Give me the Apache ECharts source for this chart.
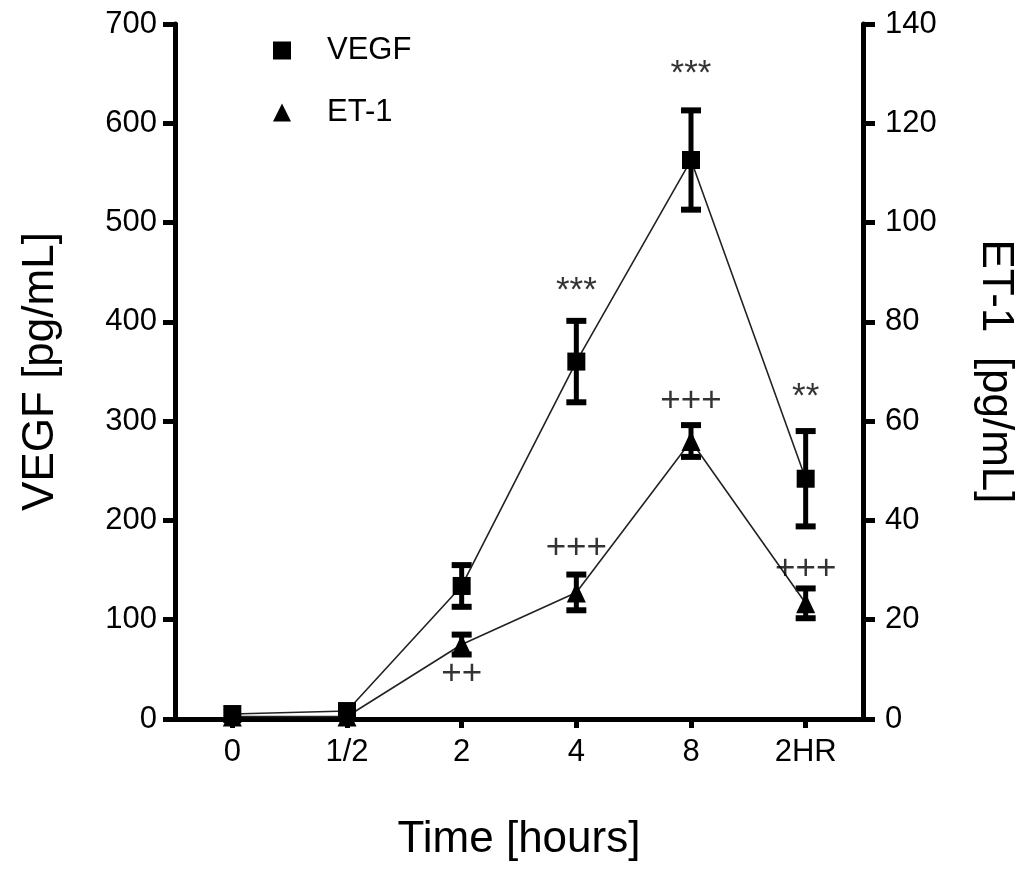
<!DOCTYPE html>
<html><head><meta charset="utf-8">
<script src="https://cdn.jsdelivr.net/npm/echarts@6/dist/echarts.min.js"></script>
<style>html,body{margin:0;padding:0;background:#fff}#c{width:1025px;height:869px}</style>
</head><body><div id="c"></div>
<script>
// ---- data ----
const categories = ['0', '1/2', '2', '4', '8', '2HR'];
const vegfMean = [5, 8, 134, 360, 563, 242];
const vegfErr  = [0, 0, 21, 41, 50, 48];
const et1Mean  = [0.5, 0.5, 15, 25.5, 56, 23.3];
const et1Err   = [0, 0, 2, 3.6, 3.2, 3];
// significance marks: [category, value on its axis, text]
const annoVEGF = [['4', 439, '***'], ['8', 657, '***'], ['2HR', 332, '**']];
const annoET1  = [['2', 8.9, '++'], ['4', 34.4, '+++'], ['8', 63.9, '+++'], ['2HR', 30.2, '+++']];

const FONT = '"Liberation Sans", Arial, sans-serif';

function errData(mean, err) {
  const out = [];
  mean.forEach((m, i) => { if (err[i] > 0) out.push([i, m - err[i], m + err[i]]); });
  return out;
}
function errRender(params, api) {
  const x = api.value(0), lo = api.value(1), hi = api.value(2);
  const pLo = api.coord([x, lo]), pHi = api.coord([x, hi]);
  const hw = 10;
  return {
    type: 'group',
    children: [
      { type: 'line', shape: { x1: pLo[0], y1: pLo[1], x2: pHi[0], y2: pHi[1] }, style: { stroke: '#000', lineWidth: 5 } },
      { type: 'line', shape: { x1: pLo[0] - hw, y1: pLo[1], x2: pLo[0] + hw, y2: pLo[1] }, style: { stroke: '#000', lineWidth: 6 } },
      { type: 'line', shape: { x1: pHi[0] - hw, y1: pHi[1], x2: pHi[0] + hw, y2: pHi[1] }, style: { stroke: '#000', lineWidth: 6 } }
    ]
  };
}
function annoSeries(list, axisIdx) {
  return {
    type: 'scatter', yAxisIndex: axisIdx, symbolSize: 0, silent: true, z: 10,
    data: list.map(a => ({
      value: [a[0], a[1]],
      label: {
        show: true, position: 'inside', formatter: a[2],
        fontSize: 35, color: '#000', fontFamily: FONT,
        offset: [0, a[2].indexOf('*') >= 0 ? 8 : 0]
      }
    }))
  };
}

const chart = echarts.init(document.getElementById('c'), null, { renderer: 'canvas' });
const axisText = { fontSize: 31, color: '#000', fontFamily: FONT };
const titleText = { fontSize: 44, color: '#000', fontFamily: FONT };
chart.setOption({
  backgroundColor: '#fff',
  animation: false,
  grid: { left: 175, right: 160, top: 24, bottom: 150, containLabel: false },
  legend: {
    orient: 'vertical', left: 268, top: 30,
    itemWidth: 18, itemHeight: 18, itemGap: 31,
    textStyle: { fontSize: 31, color: '#000', fontFamily: FONT, padding: [0, 0, 0, 31], lineHeight: 31 },
    data: [{ name: 'VEGF', icon: 'rect' }, { name: 'ET-1', icon: 'triangle' }]
  },
  xAxis: {
    type: 'category', data: categories, boundaryGap: true,
    name: 'Time [hours]', nameLocation: 'middle', nameGap: 99,
    nameTextStyle: titleText,
    axisLine: { lineStyle: { color: '#000', width: 5 } },
    axisTick: { show: true, alignWithLabel: true, length: 9, lineStyle: { color: '#000', width: 5 } },
    axisLabel: Object.assign({ margin: 18 }, axisText),
    splitLine: { show: false }
  },
  yAxis: [
    {
      type: 'value', min: 0, max: 700, interval: 100, position: 'left',
      name: 'VEGF [pg/mL]', nameLocation: 'middle', nameGap: 112,
      nameTextStyle: titleText,
      axisLine: { show: true, lineStyle: { color: '#000', width: 5 } },
      axisTick: { show: true, length: 12, lineStyle: { color: '#000', width: 5 } },
      axisLabel: Object.assign({ margin: 18 }, axisText),
      splitLine: { show: false }
    },
    {
      type: 'value', min: 0, max: 140, interval: 20, position: 'right',
      name: 'ET-1  [pg/mL]', nameLocation: 'middle', nameGap: 110, nameRotate: -90,
      nameTextStyle: titleText,
      axisLine: { show: true, lineStyle: { color: '#000', width: 5 } },
      axisTick: { show: true, length: 12, lineStyle: { color: '#000', width: 5 } },
      axisLabel: Object.assign({ margin: 22 }, axisText),
      splitLine: { show: false }
    }
  ],
  series: [
    {
      name: 'VEGF', type: 'line', yAxisIndex: 0, data: vegfMean,
      symbol: 'rect', symbolSize: 18, showAllSymbol: true, z: 5,
      itemStyle: { color: '#000' }, lineStyle: { color: '#222', width: 1.6 }
    },
    {
      name: 'ET-1', type: 'line', yAxisIndex: 1, data: et1Mean,
      symbol: 'triangle', symbolSize: [19, 20], showAllSymbol: true, z: 5,
      itemStyle: { color: '#000' }, lineStyle: { color: '#222', width: 1.6 }
    },
    { type: 'custom', yAxisIndex: 0, renderItem: errRender, data: errData(vegfMean, vegfErr), z: 4, silent: true },
    { type: 'custom', yAxisIndex: 1, renderItem: errRender, data: errData(et1Mean, et1Err), z: 4, silent: true },
    annoSeries(annoVEGF, 0),
    annoSeries(annoET1, 1)
  ]
});
</script></body></html>
